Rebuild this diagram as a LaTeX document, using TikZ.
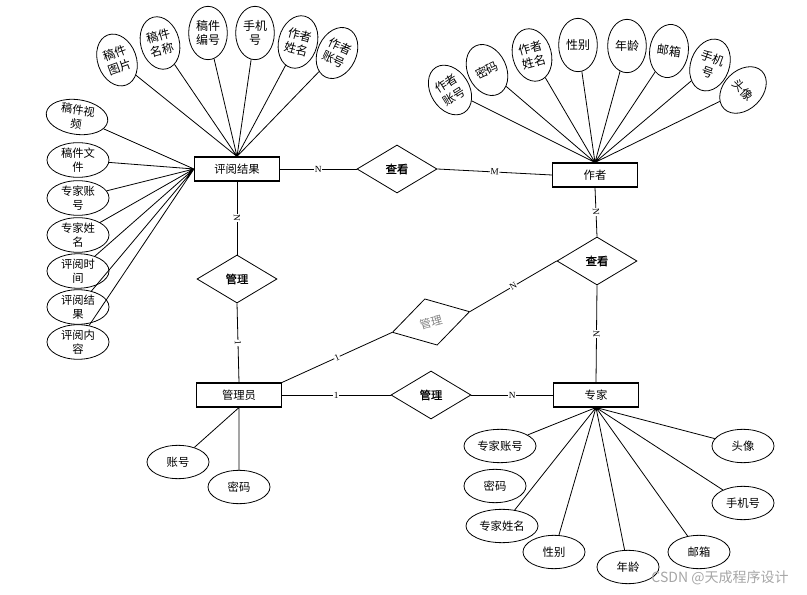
\documentclass[tikz,border=0pt]{standalone}
\usepackage{fontspec}
\setmainfont{Liberation Serif}
\newfontfamily\cjk{Noto Sans CJK SC}
\newfontfamily\cjkb[FakeBold=1.2]{Noto Sans CJK SC}
\usetikzlibrary{shapes.geometric}

\begin{document}
\begin{tikzpicture}[x=0.75pt,y=-0.75pt,line width=0.6pt,
    ent/.style={draw, rectangle, line width=0.8pt, minimum width=63.75pt, minimum height=18pt, font=\cjk\fontsize{8.5}{10}\selectfont},
    rel/.style={draw, diamond, aspect=1.667, minimum width=60pt, minimum height=36pt, inner sep=0pt, font=\cjkb\fontsize{8.5}{10}\selectfont},
    att/.style={draw, ellipse, minimum width=29pt, minimum height=40pt, inner sep=0pt, align=center, font=\cjk\fontsize{9}{11}\selectfont},
    wid/.style={draw, ellipse, minimum width=46.5pt, minimum height=25pt, inner sep=0pt, align=center, font=\cjk\fontsize{8.5}{10.5}\selectfont},
    lbl/.style={fill=white, inner sep=0.4pt, sloped, font=\fontsize{7}{8}\selectfont}]
    \useasboundingbox (0,0) rectangle (807,595);

    % entities
    \node[ent] (R) at (237,169) {评阅结果};
    \node[ent] (Z) at (595,175) {作者};
    \node[ent] (G) at (239,395) {管理员};
    \node[ent] (E) at (596,395) {专家};

    % relations
    \node[rel] (C1) at (397,169) {查看};
    \node[rel] (M1) at (237,279) {管理};
    \node[rel] (C2) at (597,261) {查看};
    \node[rel, rotate=15, font=\cjk\fontsize{8.5}{10}\selectfont, text=black!50] (M2) at (431,322) {管理};
    \node[rel] (M3) at (431,395) {管理};

    % attributes of R
    \node[att, rotate=20] (r1) at (117,60) {稿件\\图片};
    \node[att, rotate=15] (r2) at (160,43) {稿件\\名称};
    \node[att] (r3) at (208,33) {稿件\\编号};
    \node[att] (r4) at (255,33) {手机\\号};
    \node[att, rotate=-15] (r5) at (298,42) {作者\\姓名};
    \node[att, rotate=-25] (r6) at (337,53) {作者\\账号};
    \node[wid, rotate=-8] (r7) at (77,117) {稿件视\\频};
    \node[wid] (r8) at (78,160) {稿件文\\件};
    \node[wid] (r9) at (78,198) {专家账\\号};
    \node[wid] (r10) at (78,235) {专家姓\\名};
    \node[wid] (r11) at (78,271) {评阅时\\间};
    \node[wid] (r12) at (78,307) {评阅结\\果};
    \node[wid] (r13) at (78,342) {评阅内\\容};

    % attributes of Z
    \node[att, rotate=32] (z1) at (450,90) {作者\\账号};
    \node[att, rotate=25] (z2) at (487,70) {密码};
    \node[att, rotate=15] (z3) at (532,55) {作者\\姓名};
    \node[att] (z4) at (578,45) {性别};
    \node[att] (z5) at (627,46) {年龄};
    \node[att, rotate=-8] (z6) at (669,51) {邮箱};
    \node[att, rotate=-20] (z7) at (710,65) {手机\\号};
    \node[att, rotate=-45] (z8) at (743,90) {头像};

    % attributes of G
    \node[wid] (g1) at (178,462) {账号};
    \node[wid] (g2) at (239,487) {密码};

    % attributes of E
    \node[wid, minimum width=54pt] (e1) at (500,446) {专家账号};
    \node[wid] (e2) at (495,486) {密码};
    \node[wid, minimum width=54pt] (e3) at (502,526) {专家姓名};
    \node[wid] (e4) at (554,552) {性别};
    \node[wid] (e5) at (628,567) {年龄};
    \node[wid] (e6) at (699,552) {邮箱};
    \node[wid] (e7) at (743,503) {手机号};
    \node[wid] (e8) at (743,446) {头像};

    \draw (R.north) -- (r1) (R.north) -- (r2) (R.north) -- (r3)
          (R.north) -- (r4) (R.north) -- (r5) (R.north) -- (r6);
    \draw (R.west) -- (r7) (R.west) -- (r8) (R.west) -- (r9) (R.west) -- (r10)
          (R.west) -- (r11) (R.west) -- (r12) (R.west) -- (r13);
    \draw (Z.north) -- (z1) (Z.north) -- (z2) (Z.north) -- (z3) (Z.north) -- (z4)
          (Z.north) -- (z5) (Z.north) -- (z6) (Z.north) -- (z7) (Z.north) -- (z8);
    \draw (G.south) -- (g1) (G.south) -- (g2);
    \draw (E.south) -- (e1) (E.south) -- (e3) (E.south) -- (e4)
          (E.south) -- (e5) (E.south) -- (e6) (E.south) -- (e7) (E.south) -- (e8);

    % relationship lines
    \draw (R.east) -- node[lbl] {N} (C1.west);
    \draw (C1.east) -- node[lbl] {M} (Z.west);
    \draw (Z.south) -- node[lbl] {N} (C2.north);
    \draw (C2.south) -- node[lbl] {N} (E.north);
    \draw (C2.west) -- node[lbl] {N} (M2.east);
    \draw (M2.west) -- node[lbl] {1} (G.north east);
    \draw (G.east) -- node[lbl] {1} (M3.west);
    \draw (M3.east) -- node[lbl] {N} (E.west);
    \draw (R.south) -- node[lbl] {N} (M1.north);
    \draw (M1.south) -- node[lbl] {1} (G.north);

    \node[text=black!35, font=\cjk\fontsize{10.5}{12}\selectfont] (wm) at (720,578) {CSDN @天成程序设计};
\end{tikzpicture}
\end{document}
